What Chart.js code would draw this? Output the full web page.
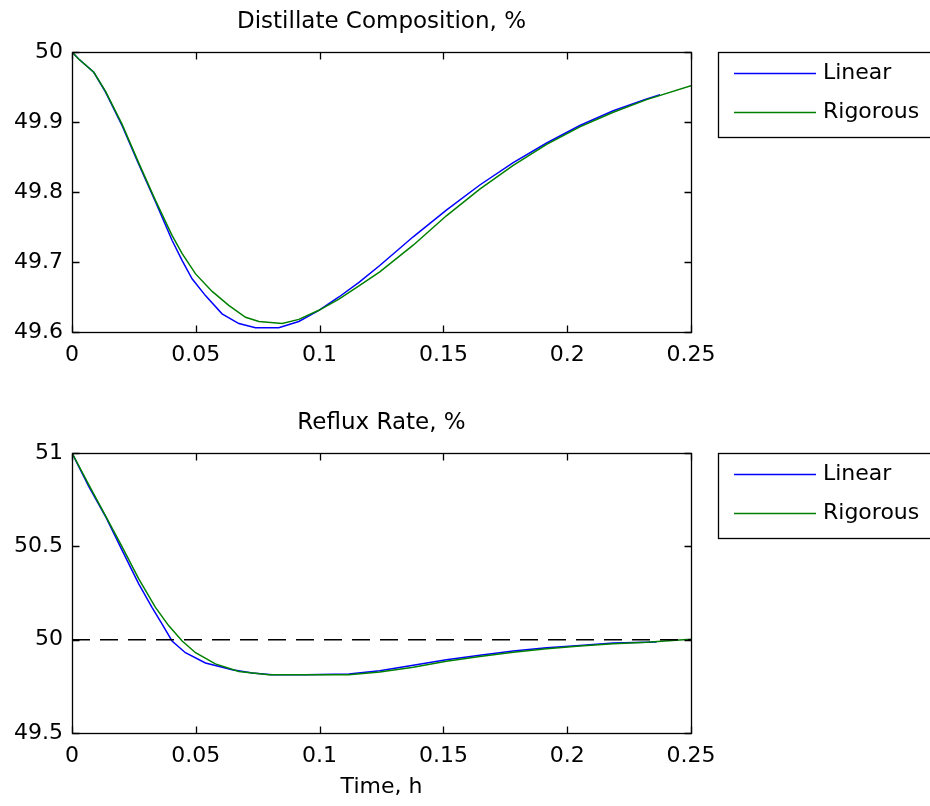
<!DOCTYPE html>
<html><head><meta charset="utf-8">
<script src="https://cdn.jsdelivr.net/npm/chart.js@4.4.1/dist/chart.umd.min.js"></script>
<style>
html,body{margin:0;padding:0;background:#fff;width:930px;height:806px;overflow:hidden}
.box{position:absolute;left:0}
</style></head><body>
<div class="box" style="top:0;width:930px;height:403px"><canvas id="c1" width="930" height="403"></canvas></div>
<div class="box" style="top:401px;width:930px;height:405px"><canvas id="c2" width="930" height="405"></canvas></div>
<script>
// ---------- data ----------
const seriesNames = ['Linear', 'Rigorous'];
const seriesColors = ['#0000ff', '#008000'];
const timeTicks = [0, 0.05, 0.1, 0.15, 0.2, 0.25];
const compTicks = [49.6, 49.7, 49.8, 49.9, 50];
const refluxTicks = [49.5, 50, 50.5, 51];
const topTitle = 'Distillate Composition, %';
const bottomTitle = 'Reflux Rate, %';
const xAxisTitle = 'Time, h';
const refluxSetpoint = 50;

// Distillate composition, linear model
const compLinT = [0, 0.0027, 0.0088, 0.0135, 0.0202, 0.0269, 0.0337, 0.0404, 0.0445, 0.0485, 0.0539, 0.0606, 0.0674, 0.0741, 0.0835, 0.0916, 0.0997, 0.1078, 0.1159, 0.1243, 0.1378, 0.1512, 0.1647, 0.1782, 0.1917, 0.2051, 0.2186, 0.2321, 0.2375];
const compLinY = [50.0, 49.990, 49.971, 49.943, 49.895, 49.840, 49.786, 49.731, 49.702, 49.676, 49.652, 49.626, 49.612, 49.606, 49.606, 49.615, 49.631, 49.650, 49.671, 49.695, 49.736, 49.774, 49.810, 49.842, 49.870, 49.895, 49.916, 49.933, 49.939];
// Distillate composition, rigorous model
const compRigT = [0, 0.0027, 0.0088, 0.0135, 0.0202, 0.0269, 0.0337, 0.0404, 0.0445, 0.0499, 0.0566, 0.0633, 0.0701, 0.0755, 0.0849, 0.0916, 0.0997, 0.1078, 0.1159, 0.1243, 0.1378, 0.1512, 0.1647, 0.1782, 0.1917, 0.2051, 0.2186, 0.2321, 0.25];
const compRigY = [50.0, 49.990, 49.971, 49.944, 49.897, 49.842, 49.788, 49.738, 49.712, 49.683, 49.658, 49.638, 49.621, 49.615, 49.612, 49.618, 49.631, 49.647, 49.666, 49.686, 49.724, 49.766, 49.804, 49.838, 49.868, 49.893, 49.914, 49.932, 49.952];
// Reflux rate, linear model
const refLinT = [0, 0.0067, 0.0135, 0.0202, 0.0269, 0.0323, 0.0364, 0.0404, 0.0458, 0.0539, 0.0647, 0.0728, 0.0808, 0.0943, 0.1118, 0.1243, 0.1378, 0.1512, 0.1647, 0.1782, 0.1917, 0.2051, 0.2186, 0.2361];
const refLinY = [51.0, 50.823, 50.661, 50.480, 50.300, 50.173, 50.083, 49.993, 49.930, 49.875, 49.839, 49.821, 49.812, 49.812, 49.816, 49.834, 49.863, 49.893, 49.917, 49.939, 49.957, 49.969, 49.982, 49.987];
// Reflux rate, rigorous model
const refRigT = [0, 0.0067, 0.0135, 0.0202, 0.0269, 0.0337, 0.0391, 0.0445, 0.0499, 0.0579, 0.0674, 0.0795, 0.0943, 0.1118, 0.1243, 0.1378, 0.1512, 0.1647, 0.1782, 0.1917, 0.2051, 0.2186, 0.2321, 0.25];
const refRigY = [51.0, 50.832, 50.665, 50.498, 50.327, 50.173, 50.074, 49.993, 49.930, 49.870, 49.830, 49.812, 49.812, 49.812, 49.827, 49.852, 49.884, 49.910, 49.933, 49.951, 49.966, 49.978, 49.986, 50.002];

// ---------- helpers ----------
const FONT = 'DejaVu Sans';
const pts = (t, v) => t.map((x, i) => ({x: x, y: v[i]}));

const framePlugin = {
  id: 'frame',
  afterDatasetsDraw(chart) {
    const {ctx, chartArea: a, scales: {x, y}} = chart;
    const L = Math.round(a.left) + 0.5, R = Math.round(a.right) + 0.5;
    const T = Math.round(a.top) + 0.5, B = Math.round(a.bottom) + 0.5;
    ctx.save();
    ctx.strokeStyle = '#000';
    ctx.lineWidth = 1.3;
    ctx.strokeRect(L, T, R - L, B - T);
    ctx.beginPath();
    const tl = 7;
    x.ticks.forEach(t => {
      const px = Math.round(x.getPixelForValue(t.value)) + 0.5;
      ctx.moveTo(px, B); ctx.lineTo(px, B - tl);
      ctx.moveTo(px, T); ctx.lineTo(px, T + tl);
    });
    y.ticks.forEach(t => {
      const py = Math.round(y.getPixelForValue(t.value)) + 0.5;
      ctx.moveTo(L, py); ctx.lineTo(L + tl, py);
      ctx.moveTo(R, py); ctx.lineTo(R - tl, py);
    });
    ctx.stroke();
    ctx.restore();
  },
  afterDraw(chart) {
    const {ctx, chartArea: a} = chart;
    const items = chart.data.datasets.filter(d => seriesNames.includes(d.label));
    const bx = 718.5, by = Math.round(a.top) + 0.5, bh = 85;
    ctx.save();
    ctx.strokeStyle = '#000';
    ctx.lineWidth = 1.3;
    ctx.strokeRect(bx, by, 260, bh);
    ctx.font = '22px "' + FONT + '"';
    ctx.fillStyle = '#000';
    ctx.textBaseline = 'middle';
    ctx.textAlign = 'left';
    items.forEach((d, i) => {
      const yy = by + 21 + i * 39;
      ctx.strokeStyle = d.borderColor;
      ctx.lineWidth = 1.6;
      ctx.beginPath(); ctx.moveTo(734, yy); ctx.lineTo(816, yy); ctx.stroke();
      ctx.fillText(d.label, 823, yy);
    });
    ctx.restore();
  }
};

function makeChart(id, title, yTicks, datasets, showXTitle, xHeight) {
  return new Chart(document.getElementById(id), {
    type: 'line',
    data: {datasets: datasets},
    plugins: [framePlugin],
    options: {
      responsive: false,
      animation: false,
      layout: {padding: {left: 0, right: 239, top: 0, bottom: 0}},
      plugins: {
        legend: {display: false},
        tooltip: {enabled: false},
        title: {
          display: true, text: title, color: '#000', fullSize: false,
          font: {family: FONT, size: 23, weight: 'normal'},
          padding: {top: 8, bottom: 16.4}
        }
      },
      elements: {point: {radius: 0}, line: {tension: 0, borderWidth: 1.5}},
      scales: {
        x: {
          type: 'linear', min: timeTicks[0], max: timeTicks[timeTicks.length - 1],
          grid: {display: false, drawTicks: false},
          border: {display: false},
          afterBuildTicks: s => { s.ticks = timeTicks.map(v => ({value: v})); },
          afterFit: s => { s.height = xHeight; },
          ticks: {color: '#000', padding: 10, maxRotation: 0, autoSkip: false,
                  font: {family: FONT, size: 22}, callback: v => String(v)},
          title: {display: showXTitle, text: xAxisTitle, color: '#000',
                  font: {family: FONT, size: 22}, padding: {top: 0, bottom: 6}}
        },
        y: {
          type: 'linear', min: yTicks[0], max: yTicks[yTicks.length - 1],
          grid: {display: false, drawTicks: false},
          border: {display: false},
          afterBuildTicks: s => { s.ticks = yTicks.map(v => ({value: v})); },
          afterFit: s => { s.width = 72; },
          ticks: {color: '#000', padding: 9, autoSkip: false,
                  font: {family: FONT, size: 22}, callback: v => String(v)}
        }
      }
    }
  });
}

makeChart('c1', topTitle, compTicks, [
  {label: seriesNames[0], data: pts(compLinT, compLinY), borderColor: seriesColors[0], order: 3},
  {label: seriesNames[1], data: pts(compRigT, compRigY), borderColor: seriesColors[1], order: 2}
], false, 71);

makeChart('c2', bottomTitle, refluxTicks, [
  {label: seriesNames[0], data: pts(refLinT, refLinY), borderColor: seriesColors[0], order: 3},
  {label: seriesNames[1], data: pts(refRigT, refRigY), borderColor: seriesColors[1], order: 2},
  {label: 'Setpoint', data: pts([timeTicks[0], timeTicks[timeTicks.length - 1]], [refluxSetpoint, refluxSetpoint]),
   borderColor: '#000', borderDash: [18, 10], borderWidth: 1.5, order: 1}
], true, 73);
</script>
</body></html>
